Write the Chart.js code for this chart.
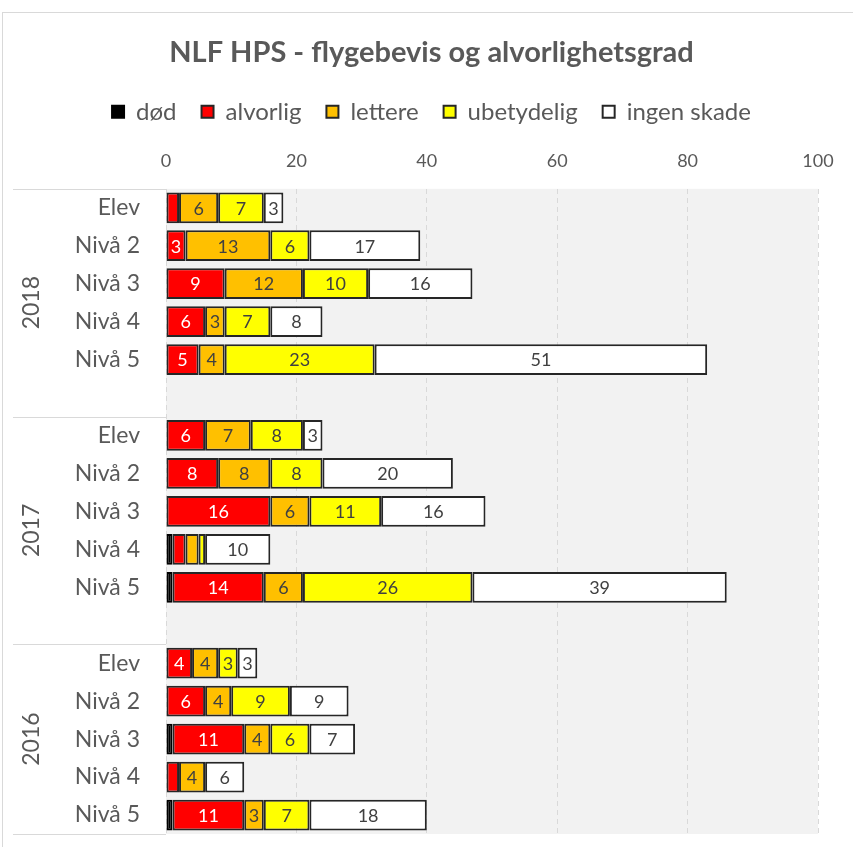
<!DOCTYPE html>
<html>
<head>
<meta charset="utf-8">
<script src="https://cdn.jsdelivr.net/npm/chart.js@4/dist/chart.umd.min.js"></script>
<style>
  html, body { margin: 0; padding: 0; background: #ffffff; }
  #wrap { width: 853px; height: 847px; position: relative; }
</style>
</head>
<body>
<div id="wrap"><canvas id="c"></canvas></div>
<script>
// ---- data ----
const chartTitle = 'NLF HPS - flygebevis og alvorlighetsgrad';
const years = ['2018', '2017', '2016'];
const categories = [
  'Elev', 'Nivå 2', 'Nivå 3', 'Nivå 4', 'Nivå 5', '',
  'Elev', 'Nivå 2', 'Nivå 3', 'Nivå 4', 'Nivå 5', '',
  'Elev', 'Nivå 2', 'Nivå 3', 'Nivå 4', 'Nivå 5'
];
const seriesNames = ['død', 'alvorlig', 'lettere', 'ubetydelig', 'ingen skade'];
const dod        = [0, 0, 0, 0, 0, null, 0, 0, 0, 1, 1, null, 0, 0, 1, 0, 1];
const alvorlig   = [2, 3, 9, 6, 5, null, 6, 8, 16, 2, 14, null, 4, 6, 11, 2, 11];
const lettere    = [6, 13, 12, 3, 4, null, 7, 8, 6, 2, 6, null, 4, 4, 4, 4, 3];
const ubetydelig = [7, 6, 10, 7, 23, null, 8, 8, 11, 1, 26, null, 3, 9, 6, 0, 7];
const ingenSkade = [3, 17, 16, 8, 51, null, 3, 20, 16, 10, 39, null, 3, 9, 7, 6, 18];
const xTicks = [0, 20, 40, 60, 80, 100];
// year groups: first and last row index of each group (incl. blank spacer row)
const groupStart = [0, 6, 12];
const groupEnd   = [5, 11, 16];

// ---- styles ----
const FONT = 'Lato';
const TEXT = '#595959';
const colors = ['#000000', '#ff0000', '#ffc000', '#ffff00', '#ffffff'];
const labelColors = ['#ffffff', '#ffffff', '#404040', '#404040', '#404040'];
const allSeries = [dod, alvorlig, lettere, ubetydelig, ingenSkade];

const decor = {
  id: 'decor',
  beforeDraw(chart) {
    const {ctx, chartArea: a} = chart;
    ctx.save();
    ctx.fillStyle = '#ffffff';
    ctx.fillRect(0, 0, chart.width, chart.height);
    ctx.fillStyle = '#f2f2f2';
    ctx.fillRect(a.left, a.top, a.right - a.left, a.bottom - a.top);
    ctx.strokeStyle = '#d9d9d9';
    ctx.lineWidth = 1;
    ctx.strokeRect(2.5, 12.5, chart.width + 20, chart.height + 20);
    ctx.restore();
  },
  afterDatasetsDraw(chart) {
    const {ctx, chartArea: a} = chart;
    const ys = chart.scales.y;
    ctx.save();
    // data labels
    ctx.font = '18px ' + FONT;
    ctx.textAlign = 'center';
    ctx.textBaseline = 'middle';
    chart.data.datasets.forEach((ds, di) => {
      const meta = chart.getDatasetMeta(di);
      meta.data.forEach((el, i) => {
        const v = ds.data[i];
        if (v == null || v < 3) return;
        const p = el.getCenterPoint();
        ctx.fillStyle = labelColors[di];
        ctx.fillText(String(v), p.x, p.y + 1);
      });
    });
    // group separators and year labels
    const rowH = ys.getPixelForValue(1) - ys.getPixelForValue(0);
    ctx.strokeStyle = '#d9d9d9';
    ctx.lineWidth = 1;
    const bounds = groupStart.map(s => ys.getPixelForValue(s) - rowH / 2);
    bounds.push(ys.getPixelForValue(groupEnd[groupEnd.length - 1]) + rowH / 2);
    bounds.forEach(yb => {
      const yy = Math.round(yb) + 0.5;
      ctx.beginPath();
      ctx.moveTo(13, yy);
      ctx.lineTo(a.left, yy);
      ctx.stroke();
    });
    ctx.font = '23px ' + FONT;
    ctx.fillStyle = TEXT;
    years.forEach((yr, g) => {
      const yc = (ys.getPixelForValue(groupStart[g]) + ys.getPixelForValue(groupEnd[g])) / 2;
      ctx.save();
      ctx.translate(32, yc);
      ctx.rotate(-Math.PI / 2);
      ctx.textAlign = 'center';
      ctx.textBaseline = 'middle';
      ctx.fillText(yr, 0, 0);
      ctx.restore();
    });
    ctx.restore();
  }
};

new Chart(document.getElementById('c'), {
  type: 'bar',
  data: {
    labels: categories,
    datasets: allSeries.map((d, i) => ({
      label: seriesNames[i],
      data: d,
      backgroundColor: colors[i],
      borderColor: i === 0 ? '#000000' : '#262626',
      borderWidth: 2,
      borderSkipped: false,
      barPercentage: 0.81,
      categoryPercentage: 1.0
    }))
  },
  options: {
    indexAxis: 'y',
    responsive: true,
    maintainAspectRatio: false,
    animation: false,
    layout: { padding: { left: 10, right: 0, top: 0, bottom: 13 } },
    plugins: {
      title: {
        display: true,
        text: chartTitle,
        color: TEXT,
        font: { family: FONT, size: 29, weight: 'bold' },
        padding: { top: 35, bottom: 5 }
      },
      legend: {
        display: true,
        position: 'top',
        labels: {
          color: TEXT,
          font: { family: FONT, size: 24 },
          boxWidth: 12,
          boxHeight: 12,
          padding: 25
        }
      },
      tooltip: { enabled: false }
    },
    scales: {
      x: {
        position: 'top',
        stacked: true,
        min: 0,
        max: 100,
        afterBuildTicks: s => { s.ticks = xTicks.map(v => ({ value: v })); },
        ticks: { color: TEXT, font: { family: FONT, size: 18 }, padding: 17 },
        grid: { color: '#d9d9d9', lineWidth: 1, drawTicks: false },
        border: { display: false, dash: [5, 4] },
        afterFit: s => { s.height = 55; }
      },
      y: {
        stacked: true,
        ticks: { color: TEXT, font: { family: FONT, size: 23 }, padding: 26, autoSkip: false },
        grid: { display: false, drawTicks: false },
        border: { display: false },
        afterFit: s => { s.width = 156; s.paddingTop = 0; s.paddingBottom = 0; }
      },
      yRight: {
        type: 'linear',
        axis: 'y',
        position: 'right',
        display: true,
        ticks: { display: false },
        grid: { display: false, drawTicks: false },
        border: { display: false },
        afterFit: s => { s.width = 35; }
      }
    }
  },
  plugins: [decor]
});
</script>
</body>
</html>
